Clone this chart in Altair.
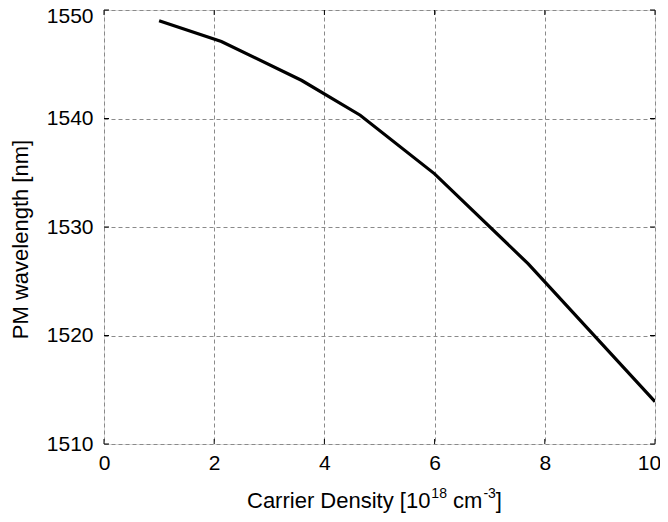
import altair as alt
import pandas as pd

density = [1.0, 2.13, 3.59, 4.65, 6.0, 7.7, 10.0]
wavelength = [1549.0, 1547.1, 1543.5, 1540.3, 1534.9, 1526.6, 1513.9]
x_ticks = [0, 2, 4, 6, 8, 10]
y_ticks = [1510, 1520, 1530, 1540, 1550]

W, H = 551, 434
df = pd.DataFrame({"x": density, "y": wavelength})
xt = pd.DataFrame({"x": x_ticks})
yt = pd.DataFrame({"y": y_ticks})

xs = alt.Scale(domain=[0, 10], nice=False)
ys = alt.Scale(domain=[1510, 1550], nice=False, zero=False)

FONT = "Liberation Sans"
LF = 21   # tick label font size
TF = 22   # title font size
SF = 14   # superscript font size

xaxis = alt.Axis(values=x_ticks, grid=True, gridDash=[4, 3], gridColor="#8a8a8a",
                 gridWidth=1, ticks=False, domain=False, labelFontSize=LF,
                 labelColor="black", labelFont=FONT, labelPadding=8, format="d",
                 labelFlush=False,
                 labelOffset={"condition": {"test": "datum.value == 10", "value": -6}, "value": 0},
                 title=None)
yaxis = alt.Axis(values=y_ticks, grid=True, gridDash=[4, 3], gridColor="#8a8a8a",
                 gridWidth=1, ticks=False, domain=False, labelFontSize=LF,
                 labelColor="black", labelFont=FONT, labelPadding=11, format="d",
                 labelFlush=False,
                 labelOffset={"condition": {"test": "datum.value == 1550", "value": 6}, "value": 0},
                 title="PM wavelength [nm]", titleFont=FONT,
                 titleFontSize=TF, titleFontWeight="normal", titleColor="black",
                 titlePadding=14, titleY=H / 2 + 12)

line = alt.Chart(df).mark_line(color="black", strokeWidth=3.2, clip=True).encode(
    x=alt.X("x:Q", scale=xs, axis=xaxis),
    y=alt.Y("y:Q", scale=ys, axis=yaxis),
)

tick_style = dict(color="black", strokeWidth=1)
bx = alt.Chart(xt).mark_rule(**tick_style).encode(
    x=alt.X("x:Q", scale=xs), y=alt.value(H), y2=alt.value(H - 5))
tx = alt.Chart(xt).mark_rule(**tick_style).encode(
    x=alt.X("x:Q", scale=xs), y=alt.value(0), y2=alt.value(5))
ly = alt.Chart(yt).mark_rule(**tick_style).encode(
    y=alt.Y("y:Q", scale=ys), x=alt.value(0), x2=alt.value(5))
ry = alt.Chart(yt).mark_rule(**tick_style).encode(
    y=alt.Y("y:Q", scale=ys), x=alt.value(W), x2=alt.value(W - 5))

# x-axis title with superscripts, built from pieces (Arial/Liberation metrics)
pieces = [("Carrier Density [10", TF, 0), ("18", SF, 1), (" cm", TF, 0), ("-3", SF, 1), ("]", TF, 0)]
widths = {"C": 722, "a": 556, "r": 333, "i": 222, "e": 556, " ": 278, "D": 722,
          "n": 556, "s": 500, "t": 278, "y": 500, "[": 278, "1": 556, "0": 556,
          "8": 556, "c": 500, "m": 833, "-": 333, "3": 556, "]": 278}
start_x = 143
base_y = H + 64
title_layers = []
cx = start_x
for txt, size, sup in pieces:
    lead = len(txt) - len(txt.lstrip(" "))
    cx += lead * widths[" "] / 1000 * size
    body = txt.lstrip(" ")
    w = sum(widths[ch] for ch in body) / 1000 * size
    if sup:
        cx += 1
    t = alt.Chart(pd.DataFrame({"t": [body]})).mark_text(
        font=FONT, fontSize=size, color="black", align="left", baseline="alphabetic"
    ).encode(text="t:N", x=alt.value(cx), y=alt.value(base_y - (10 if sup else 0)))
    title_layers.append(t)
    cx += w

chart = alt.layer(line, bx, tx, ly, ry, *title_layers).properties(
    width=W, height=H,
    autosize=alt.AutoSizeParams(type="none"),
    padding={"left": 96, "top": 2, "right": 5, "bottom": 70},
).configure_view(stroke="black", strokeWidth=1.5).configure(background="white")

chart.save("out.html", embed_options={"renderer": "svg", "actions": False})
